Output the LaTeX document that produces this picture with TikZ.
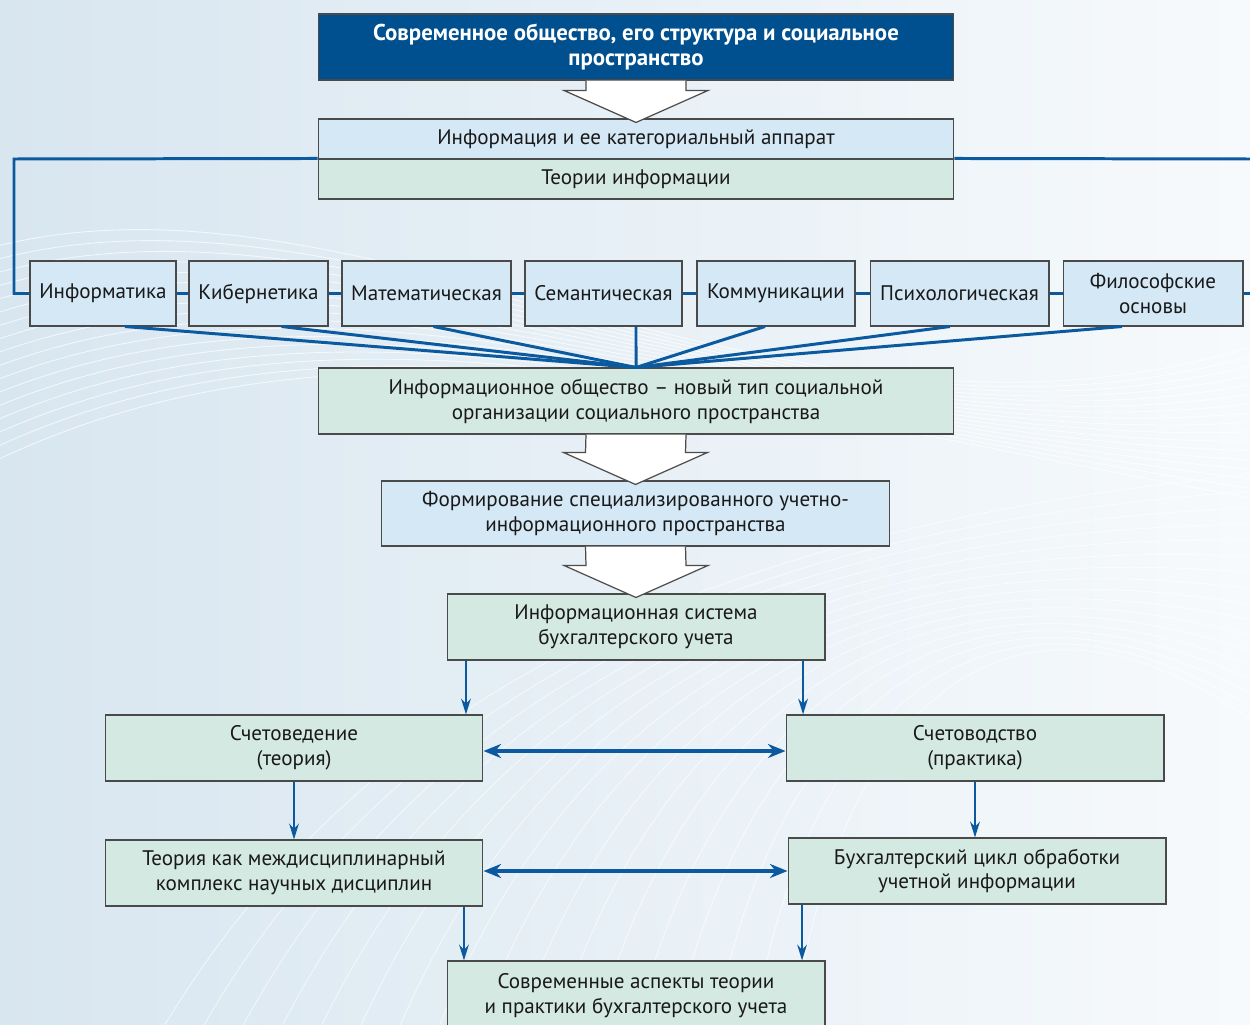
\documentclass[tikz,border=0pt]{standalone}
\usepackage{fontspec}
\setmainfont{PT Sans}
\usetikzlibrary{positioning,arrows.meta,calc}
\definecolor{topblue}{HTML}{00508F}
\definecolor{lineblue}{HTML}{0B5AA0}
\definecolor{boxblue}{HTML}{D5E8F6}
\definecolor{boxgreen}{HTML}{D4E9E1}
\definecolor{boxedge}{HTML}{4A4A4A}
\definecolor{bgblue}{HTML}{D8E6F0}
\tikzset{
  box/.style={draw=boxedge, line width=0.6pt, align=center, inner sep=0pt,
    font=\fontsize{12}{14.2}\selectfont, text=black!90},
  bluebox/.style={box, fill=boxblue},
  greenbox/.style={box, fill=boxgreen},
  link/.style={draw=lineblue, line width=1.7pt},
  flow/.style={draw=lineblue, line width=1.2pt, -{Stealth[length=9pt,width=5.5pt]}},
  both/.style={draw=lineblue, line width=2.3pt,
    {Stealth[length=10pt,width=8pt]}-{Stealth[length=10pt,width=8pt]}},
  fat/.style={fill=white, draw=gray!60!black, line width=0.7pt, line join=miter},
}
\newcommand{\fatarrow}[2]{%
  \draw[fat] ($(#1.south)+(-50,0)$) -- ($(#2.north)+(-50,-28)$)
    -- ($(#2.north)+(-72,-28)$) -- ($(#2.north)+(0,4)$)
    -- ($(#2.north)+(72,-28)$) -- ($(#2.north)+(50,-28)$)
    -- ($(#1.south)+(50,0)$);}

\begin{document}
\begin{tikzpicture}[x=0.02cm, y=-0.02cm]
  % background
  \useasboundingbox (0,0) rectangle (1250,1024);
  \clip (0,0) rectangle (1250,1024);
  \fill[left color=bgblue, right color=white!80!bgblue] (0,0) rectangle (1250,1024);
  \foreach \k in {0,...,16}
    \draw[white, opacity=0.7, line width=0.5pt]
      (-50,260+14*\k) .. controls (350,120+9*\k) and (800,520-6*\k) .. (1300,330+11*\k);
  \foreach \k in {0,...,16}
    \draw[white, opacity=0.6, line width=0.5pt]
      (150+40*\k,1050) .. controls (350+30*\k,700) and (700+20*\k,520) .. (1300,470+18*\k);

  % top part
  \node[box, fill=topblue, text=white, font=\bfseries\fontsize{13}{14.2}\selectfont,
        minimum width=12.72cm, minimum height=1.32cm] (top) at (636,47)
        {Современное общество, его структура и социальное\\пространство};
  \node[bluebox, minimum width=12.72cm, minimum height=0.8cm] (info) at (636,139)
        {Информация и ее категориальный аппарат};
  \node[greenbox, minimum width=12.72cm, minimum height=0.8cm] (theory) at (636,179)
        {Теории информации};

  % row of theories
  \node[bluebox, minimum width=2.92cm, minimum height=1.3cm] (inf) at (103,293.5) {Информатика};
  \node[bluebox, minimum width=2.78cm, minimum height=1.3cm] (cyb) at (258.5,293.5) {Кибернетика};
  \node[bluebox, minimum width=3.38cm, minimum height=1.3cm] (mat) at (426.5,293.5) {Математическая};
  \node[bluebox, minimum width=3.14cm, minimum height=1.3cm] (sem) at (603.5,293.5) {Семантическая};
  \node[bluebox, minimum width=3.16cm, minimum height=1.3cm] (com) at (776,293.5) {Коммуникации};
  \node[bluebox, minimum width=3.58cm, minimum height=1.3cm] (psy) at (959.5,293.5) {Психологическая};
  \node[bluebox, minimum width=3.6cm, minimum height=1.3cm] (phi) at (1153,293.5) {Философские\\основы};

  \node[greenbox, minimum width=12.72cm, minimum height=1.32cm] (soc) at (636,401)
        {Информационное общество -- новый тип социальной\\организации социального пространства};
  \node[bluebox, minimum width=10.18cm, minimum height=1.3cm] (form) at (635.5,513.5)
        {Формирование специализированного учетно-\\информационного пространства};
  \node[greenbox, minimum width=7.56cm, minimum height=1.32cm] (ais) at (636,627)
        {Информационная система\\бухгалтерского учета};

  % lower part
  \node[greenbox, minimum width=7.56cm, minimum height=1.32cm] (sch1) at (294,748)
        {Счетоведение\\(теория)};
  \node[greenbox, minimum width=7.56cm, minimum height=1.32cm] (sch2) at (975,748)
        {Счетоводство\\(практика)};
  \node[greenbox, minimum width=7.56cm, minimum height=1.32cm] (thc) at (294,873)
        {Теория как междисциплинарный\\комплекс научных дисциплин};
  \node[greenbox, minimum width=7.56cm, minimum height=1.32cm] (buh) at (977,871)
        {Бухгалтерский цикл обработки\\учетной информации};
  \node[greenbox, minimum width=7.56cm, minimum height=1.38cm] (mod) at (636,995.5)
        {Современные аспекты теории\\и практики бухгалтерского учета};

  % big arrows
  \fatarrow{top}{info}
  \fatarrow{soc}{form}
  \fatarrow{form}{ais}

  % links of the theories
  \coordinate (lc) at (14,159);
  \coordinate (re1) at (1250,159);
  \coordinate (re2) at (1250,293.5);
  \draw[link] (theory.north west) -- (lc) |- (inf.west);
  \draw[link] (theory.north east) -- (re1);
  \draw[link] (phi.east) -- (re2);
  \foreach \a/\b in {inf/cyb, cyb/mat, mat/sem, sem/com, com/psy, psy/phi}
    \draw[link] (\a.east) -- (\b.west);
  \foreach \n/\dx in {inf/0.44cm, cyb/0.46cm, mat/0.14cm, sem/0.65cm, com/-0.22cm, psy/-0.19cm, phi/-0.62cm}
    \draw[link] ([xshift=\dx]\n.south) -- (soc.north);

  % accounting arrows
  \draw[flow] ([xshift=3.44cm]sch1.north |- ais.south) -- ([xshift=3.44cm]sch1.north);
  \draw[flow] ([xshift=-3.44cm]sch2.north |- ais.south) -- ([xshift=-3.44cm]sch2.north);
  \draw[flow] (sch1.south) -- (thc.north);
  \draw[flow] (sch2.south) -- (sch2.south |- buh.north);
  \draw[flow] ([xshift=3.4cm]thc.south) -- ([xshift=3.4cm]thc.south |- mod.north);
  \draw[flow] ([xshift=-3.5cm]buh.south) -- ([xshift=-3.5cm]buh.south |- mod.north);
  \draw[both] ([yshift=-0.06cm]sch1.east) -- ([yshift=-0.06cm]sch2.west);
  \draw[both] (thc.east |- buh.west) -- (buh.west);
\end{tikzpicture}
\end{document}
